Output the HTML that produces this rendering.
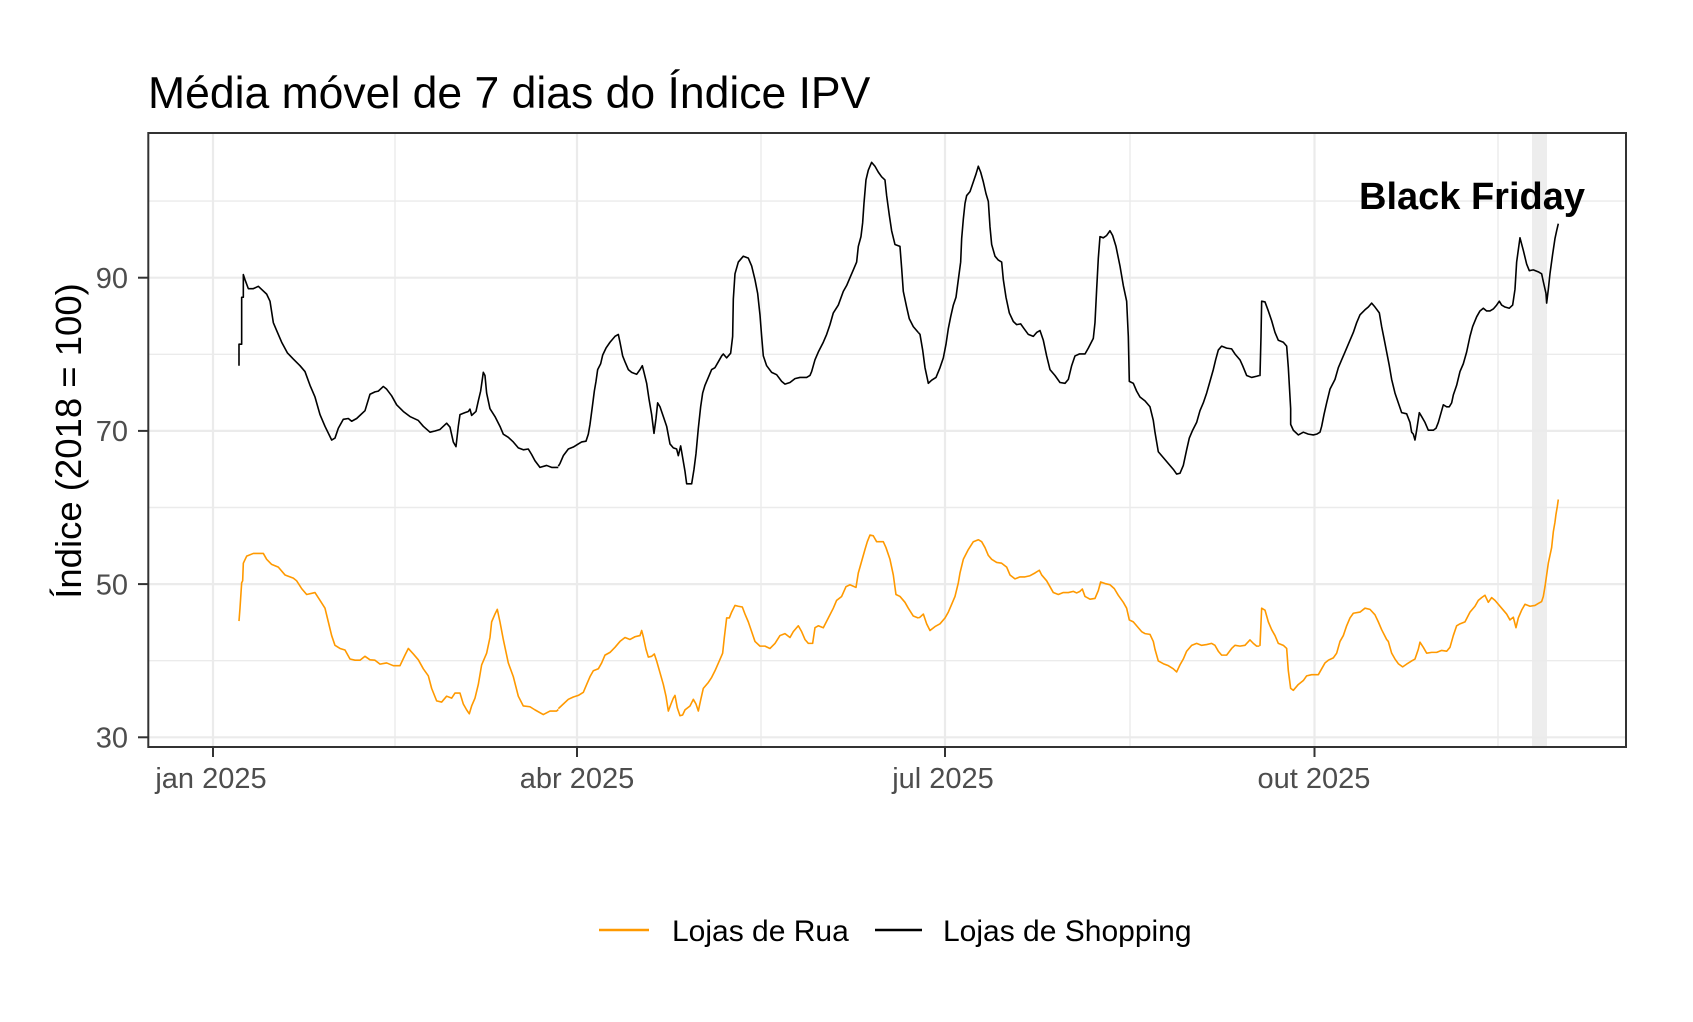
<!DOCTYPE html>
<html>
<head>
<meta charset="utf-8">
<style>
  html, body { margin:0; padding:0; background:#ffffff; }
  svg { display:block; }
  text { font-family: "Liberation Sans", Arial, sans-serif; }
</style>
</head>
<body>
<svg width="1693" height="1022" viewBox="0 0 1693 1022" xmlns="http://www.w3.org/2000/svg">
  <rect x="0" y="0" width="1693" height="1022" fill="#ffffff"/>

  <!-- Title -->
  <text x="148" y="108" font-size="44.5" fill="#000000">Média móvel de 7 dias do Índice IPV</text>

  <!-- Panel background -->
  <rect x="148.3" y="133" width="1477.7" height="614" fill="#ffffff"/>

  <!-- Minor gridlines -->
  <g stroke="#EBEBEB" stroke-width="1.4">
    <line x1="148.3" x2="1626" y1="660.7" y2="660.7"/>
    <line x1="148.3" x2="1626" y1="507.5" y2="507.5"/>
    <line x1="148.3" x2="1626" y1="354.3" y2="354.3"/>
    <line x1="148.3" x2="1626" y1="201.1" y2="201.1"/>
    <line x1="395" x2="395" y1="133" y2="747"/>
    <line x1="761" x2="761" y1="133" y2="747"/>
    <line x1="1130" x2="1130" y1="133" y2="747"/>
    <line x1="1498" x2="1498" y1="133" y2="747"/>
  </g>
  <!-- Major gridlines -->
  <g stroke="#EBEBEB" stroke-width="2.2">
    <line x1="148.3" x2="1626" y1="737.3" y2="737.3"/>
    <line x1="148.3" x2="1626" y1="584.1" y2="584.1"/>
    <line x1="148.3" x2="1626" y1="430.9" y2="430.9"/>
    <line x1="148.3" x2="1626" y1="277.7" y2="277.7"/>
    <line x1="213" x2="213" y1="133" y2="747"/>
    <line x1="577" x2="577" y1="133" y2="747"/>
    <line x1="945" x2="945" y1="133" y2="747"/>
    <line x1="1314.5" x2="1314.5" y1="133" y2="747"/>
  </g>

  <!-- Black Friday shaded band -->
  <rect x="1532" y="133" width="15" height="614" fill="#EBEBEB" opacity="0.9"/>

  <!-- Series: segment 1 (zoom origin x=200) -->
  <g transform="translate(200,133) scale(0.3333,0.3911)" fill="none" stroke-linejoin="round" stroke-linecap="butt">
    <polyline vector-effect="non-scaling-stroke" stroke="#000000" stroke-width="1.6" points="117,595 117,540 125,540 125,420 130,420 130,362 135,375 145,398 160,398 175,392 185,400 200,412 210,430 220,485 230,505 245,535 262,562 280,578 300,595 315,610 330,645 345,675 360,720 375,750 395,785 405,780 415,755 430,732 445,730 455,737 470,730 480,722 495,710 510,668 525,662 535,660 550,648 560,655 575,672 590,695 610,712 630,725 655,735 670,750 690,765 705,762 720,758 740,742 750,752 760,790 768,802 775,750 780,720 795,715 805,712 810,706 815,722 828,712 835,685 842,660 850,612 855,620 860,665 870,705 885,725 900,750 910,770 925,778 940,790 955,805 970,810 985,808 995,822 1005,838 1020,855 1040,850 1055,855 1075,855"/>
    <polyline vector-effect="non-scaling-stroke" stroke="#FF9900" stroke-width="1.6" points="117,1248 120,1215 125,1150 128,1145 130,1100 140,1082 160,1075 190,1075 200,1090 215,1103 235,1110 255,1130 280,1138 290,1145 305,1165 320,1180 345,1175 360,1195 375,1215 385,1250 395,1285 405,1310 420,1318 435,1322 450,1345 465,1348 480,1348 495,1338 510,1347 525,1348 540,1358 560,1355 580,1362 600,1362 615,1335 625,1318 640,1332 655,1347 670,1370 685,1388 695,1420 710,1452 725,1455 740,1440 755,1445 765,1432 780,1432 790,1460 800,1475 808,1485 815,1465 825,1445 835,1410 845,1360 860,1330 870,1290 875,1250 885,1230 892,1218 900,1250 910,1295 925,1355 940,1390 955,1440 970,1465 990,1467 1005,1475 1030,1487 1050,1478 1070,1478 1075,1474"/>
  </g>

  <!-- Segment 2 (zoom origin x=560) -->
  <g transform="translate(560,133) scale(0.3333,0.3911)" fill="none" stroke-linejoin="round">
    <polyline vector-effect="non-scaling-stroke" stroke="#000000" stroke-width="1.6" points="-5,852 0,845 10,825 25,808 40,803 55,795 65,790 78,788 85,770 90,745 97,700 103,660 108,635 113,605 122,590 128,568 138,550 150,535 165,520 175,515 180,535 188,570 195,585 205,605 215,612 230,617 240,605 247,595 252,612 260,640 267,680 275,720 282,768 288,730 293,690 300,700 310,725 320,750 330,795 340,805 350,808 355,825 362,800 368,830 375,865 380,897 395,897 402,860 408,820 415,755 422,700 428,665 435,645 445,625 455,605 465,600 475,585 485,570 490,565 500,575 512,563 518,520 520,425 525,360 535,330 550,315 565,320 575,340 585,375 593,410 600,465 605,520 610,570 620,595 635,612 650,618 665,635 675,642 690,638 705,628 720,625 740,625 750,620 755,610 765,580 775,560 790,535 800,515 810,490 820,460 835,440 850,405 860,390 870,370 880,350 890,330 895,290 903,265 908,230 912,180 918,120 925,95 935,75 945,85 955,100 965,112 975,120 980,160 988,210 995,250 1005,285 1020,290 1025,345 1030,405 1040,445 1048,475 1060,495 1075,510"/>
    <polyline vector-effect="non-scaling-stroke" stroke="#FF9900" stroke-width="1.6" points="-5,1472 0,1468 10,1460 25,1448 40,1442 55,1438 70,1430 80,1410 90,1390 100,1375 115,1370 125,1355 135,1335 150,1328 165,1315 180,1300 195,1290 210,1295 225,1288 240,1285 245,1272 250,1288 258,1320 265,1340 275,1338 283,1332 290,1350 300,1380 310,1410 318,1440 325,1478 333,1460 340,1445 345,1438 352,1470 360,1490 368,1488 375,1475 390,1465 400,1448 408,1460 415,1478 422,1450 430,1420 445,1405 455,1392 465,1375 478,1350 488,1330 493,1290 500,1240 508,1240 515,1225 525,1208 535,1210 547,1212 555,1230 565,1250 575,1275 585,1300 600,1312 615,1312 630,1318 645,1305 660,1285 675,1280 690,1290 700,1275 715,1260 725,1275 735,1295 745,1305 758,1305 765,1265 775,1260 790,1265 805,1240 820,1215 830,1195 845,1185 858,1160 870,1155 888,1162 895,1125 905,1095 915,1065 922,1045 930,1028 940,1030 950,1045 970,1045 978,1060 990,1090 1000,1130 1008,1180 1020,1185 1035,1200 1045,1215 1060,1235 1075,1240"/>
  </g>

  <!-- Segment 3 (zoom origin x=920) -->
  <g transform="translate(920,133) scale(0.3333,0.3911)" fill="none" stroke-linejoin="round">
    <polyline vector-effect="non-scaling-stroke" stroke="#000000" stroke-width="1.6" points="-5,510 0,515 8,555 15,600 25,640 35,632 48,625 60,600 70,575 78,540 85,500 92,470 100,440 108,420 115,375 122,330 125,270 130,220 135,180 140,160 150,150 160,125 168,105 175,85 182,100 190,125 198,155 205,175 210,240 215,285 225,315 235,325 245,330 250,375 258,420 268,460 280,482 290,490 302,488 312,500 325,515 340,520 350,510 360,505 370,530 380,570 390,605 405,620 420,638 435,640 445,630 455,595 465,570 478,565 495,565 505,550 520,525 525,485 530,400 535,320 540,265 550,268 560,262 570,250 578,262 588,290 600,340 610,390 620,430 625,520 628,635 640,640 650,660 660,675 675,685 690,700 700,735 705,765 710,790 715,815 730,830 745,845 760,860 770,872 780,870 790,850 800,810 808,780 818,760 830,740 840,710 850,690 860,665 870,635 880,605 887,580 895,555 905,545 920,550 935,552 945,565 960,580 968,595 980,620 995,625 1010,622 1018,620"/>
    <polyline vector-effect="non-scaling-stroke" stroke="#FF9900" stroke-width="1.6" points="-5,1240 0,1238 10,1230 20,1255 30,1272 45,1262 60,1255 75,1240 85,1225 95,1205 105,1185 115,1150 120,1125 130,1090 145,1065 160,1045 175,1040 185,1045 195,1060 205,1080 215,1090 230,1098 245,1100 260,1110 270,1130 285,1140 300,1135 315,1135 330,1132 345,1125 358,1118 365,1130 380,1145 390,1160 400,1175 415,1180 430,1175 445,1175 460,1172 470,1176 480,1172 487,1166 495,1185 510,1192 525,1190 535,1170 542,1148 555,1152 570,1155 583,1165 595,1182 610,1200 620,1215 628,1245 640,1250 655,1265 665,1275 675,1280 690,1282 700,1300 705,1320 715,1350 730,1357 745,1362 760,1370 770,1378 780,1360 790,1345 800,1325 815,1310 830,1305 845,1310 860,1308 875,1305 885,1310 895,1325 905,1335 920,1335 935,1318 945,1310 960,1312 975,1310 990,1296 1000,1305 1010,1312 1018,1312"/>
  </g>

  <!-- Segment 4 (zoom origin x=1260) -->
  <g transform="translate(1260,133) scale(0.3333,0.3911)" fill="none" stroke-linejoin="round">
    <polyline vector-effect="non-scaling-stroke" stroke="#000000" stroke-width="1.6" points="-2,620 0,620 3,520 5,430 15,432 25,455 35,480 45,510 55,530 70,535 80,545 85,600 88,645 92,705 92,745 100,760 115,772 130,765 145,770 160,772 170,770 180,765 185,750 192,720 200,690 210,655 225,630 235,600 245,580 255,560 265,540 280,510 290,485 300,465 315,452 325,445 335,435 345,445 358,460 365,495 372,525 380,560 388,595 395,630 405,665 415,690 425,715 440,718 450,740 455,765 460,770 465,785 470,760 478,715 485,725 495,740 505,760 520,760 528,755 535,740 545,710 550,695 560,700 568,700 575,690 580,670 590,645 600,610 610,590 620,560 630,520 638,495 650,470 660,455 670,448 680,455 690,455 700,450 710,440 718,430 725,440 735,445 748,448 758,440 765,400 770,330 780,268 790,300 800,335 808,352 820,350 835,355 845,360 850,380 858,410 860,435 865,400 870,360 878,310 885,270 890,250 895,232"/>
    <polyline vector-effect="non-scaling-stroke" stroke="#FF9900" stroke-width="1.6" points="-2,1311 0,1310 5,1215 15,1220 25,1250 35,1270 45,1285 55,1305 70,1310 80,1318 85,1375 92,1420 100,1425 115,1410 130,1400 140,1388 155,1385 175,1385 185,1370 195,1355 205,1348 220,1342 230,1330 240,1300 250,1285 260,1260 270,1240 280,1228 300,1225 315,1215 330,1218 345,1232 355,1250 365,1270 380,1295 385,1300 395,1330 405,1345 415,1357 428,1365 440,1358 455,1350 465,1345 475,1320 480,1302 490,1315 500,1330 515,1328 530,1328 545,1323 560,1325 570,1315 580,1285 590,1260 600,1255 615,1250 630,1225 645,1210 655,1195 665,1188 675,1182 685,1200 695,1188 705,1195 715,1205 725,1215 740,1230 750,1245 760,1238 768,1265 775,1240 785,1220 795,1205 810,1210 825,1208 835,1203 845,1198 850,1185 855,1160 860,1130 865,1100 870,1080 875,1060 880,1020 885,995 888,975 892,955 895,937"/>
  </g>

  <!-- Black Friday label -->
  <text x="1472" y="209" font-size="38" font-weight="bold" fill="#000000" text-anchor="middle">Black Friday</text>

  <!-- Panel border -->
  <rect x="148.3" y="133" width="1477.7" height="614" fill="none" stroke="#333333" stroke-width="2"/>

  <!-- Ticks -->
  <g stroke="#333333" stroke-width="2">
    <line x1="138" x2="148.3" y1="737.3" y2="737.3"/>
    <line x1="138" x2="148.3" y1="584.1" y2="584.1"/>
    <line x1="138" x2="148.3" y1="430.9" y2="430.9"/>
    <line x1="138" x2="148.3" y1="277.7" y2="277.7"/>
    <line x1="213" x2="213" y1="747" y2="757"/>
    <line x1="577" x2="577" y1="747" y2="757"/>
    <line x1="945" x2="945" y1="747" y2="757"/>
    <line x1="1314.5" x2="1314.5" y1="747" y2="757"/>
  </g>
  <g font-size="29" fill="#4D4D4D" text-anchor="end">
    <text x="128" y="747.5">30</text>
    <text x="128" y="594.3">50</text>
    <text x="128" y="441.1">70</text>
    <text x="128" y="287.9">90</text>
  </g>
  <g font-size="29" fill="#4D4D4D" text-anchor="middle">
    <text x="211" y="788">jan 2025</text>
    <text x="577" y="788">abr 2025</text>
    <text x="943" y="788">jul 2025</text>
    <text x="1314" y="788">out 2025</text>
  </g>

  <!-- Y axis title -->
  <text transform="translate(81,441) rotate(-90)" font-size="36.5" fill="#000000" text-anchor="middle">Índice (2018 = 100)</text>

  <!-- Legend -->
  <line x1="599" x2="649" y1="930" y2="930" stroke="#FF9900" stroke-width="2.5"/>
  <text x="672" y="941" font-size="30" fill="#000000">Lojas de Rua</text>
  <line x1="875" x2="922" y1="930" y2="930" stroke="#000000" stroke-width="2.5"/>
  <text x="943" y="941" font-size="30" fill="#000000">Lojas de Shopping</text>
</svg>
</body>
</html>
